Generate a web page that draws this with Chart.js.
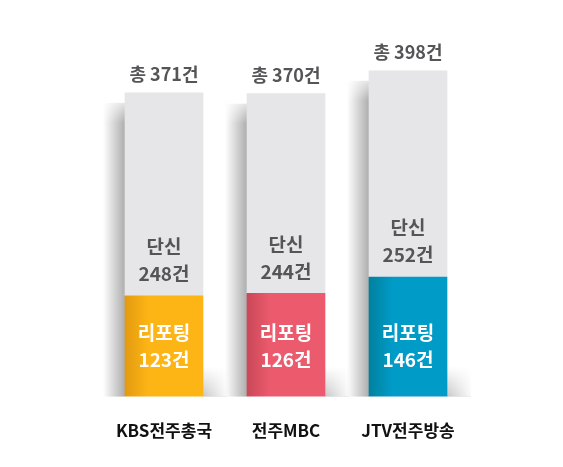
<!DOCTYPE html>
<html>
<head>
<meta charset="utf-8">
<script src="https://cdn.jsdelivr.net/npm/chart.js@4"></script>
<style>
  html, body { margin: 0; padding: 0; background: #fff; }
  #wrap { width: 563px; height: 467px; }
</style>
</head>
<body>
<div id="wrap"><canvas id="chart" width="563" height="467"></canvas></div>
<script>
// ---- data ----
const categories = ['KBS전주총국', '전주MBC', 'JTV전주방송'];
const reportValues = [123, 126, 146];   // 리포팅
const briefValues = [248, 244, 252];    // 단신
const totals = [371, 370, 398];         // 총

const reportColors = ['#FDB515', '#EC5B6D', '#009BC7'];
const reportDark = ['#E39A10', '#C94858', '#00819F'];
const briefColor = '#E6E6E8';
const FONT = '"Noto Sans CJK KR", "Noto Sans", sans-serif';

function sideGradient(ctx, i, light, dark) {
  const chart = ctx.chart;
  if (!chart.chartArea || !chart.scales.x) return light;
  const cx = chart.scales.x.getPixelForValue(i);
  const g = chart.ctx.createLinearGradient(cx - 39, 0, cx + 39, 0);
  g.addColorStop(0, dark);
  g.addColorStop(0.3, light);
  g.addColorStop(1, light);
  return g;
}

// soft shadows around each bar + labels
const barDecor = {
  id: 'barDecor',
  beforeDatasetsDraw(chart) {
    const ctx = chart.ctx;
    const top = chart.getDatasetMeta(1).data;
    const bottom = chart.getDatasetMeta(0).data;
    ctx.save();
    top.forEach((bar, i) => {
      const left = bar.x - 39;
      const right = bar.x + 39;
      const base = bottom[i].base;
      // left side shadow
      let g = ctx.createLinearGradient(left - 22, 0, left, 0);
      g.addColorStop(0, 'rgba(0,0,0,0)');
      g.addColorStop(1, 'rgba(0,0,0,0.32)');
      ctx.fillStyle = g;
      ctx.fillRect(left - 22, bar.y + 10, 22, base - bar.y - 10);
      // fade the top of it
      g = ctx.createLinearGradient(0, bar.y, 0, bar.y + 30);
      g.addColorStop(0, 'rgba(255,255,255,1)');
      g.addColorStop(1, 'rgba(255,255,255,0)');
      ctx.fillStyle = g;
      ctx.fillRect(left - 22, bar.y, 22, 30);
      // floor shadow to the right
      g = ctx.createLinearGradient(0, base - 30, 0, base);
      g.addColorStop(0, 'rgba(0,0,0,0)');
      g.addColorStop(1, 'rgba(0,0,0,0.22)');
      ctx.fillStyle = g;
      ctx.fillRect(right, base - 30, 24, 30);
      g = ctx.createLinearGradient(right, 0, right + 26, 0);
      g.addColorStop(0, 'rgba(255,255,255,0)');
      g.addColorStop(1, 'rgba(255,255,255,1)');
      ctx.fillStyle = g;
      ctx.fillRect(right, base - 30, 26, 30);
    });
    ctx.restore();
  },
  afterDatasetsDraw(chart) {
    const ctx = chart.ctx;
    const rep = chart.getDatasetMeta(0).data;
    const brief = chart.getDatasetMeta(1).data;
    ctx.save();
    ctx.textAlign = 'center';
    ctx.textBaseline = 'middle';
    brief.forEach((bar, i) => {
      ctx.fillStyle = '#555558';
      ctx.font = 'bold 18px ' + FONT;
      ctx.fillText('총 ' + totals[i] + '건', bar.x, bar.y - 19);
      ctx.font = 'bold 19px ' + FONT;
      ctx.fillText('단신', bar.x, bar.base - 49);
      ctx.fillText(briefValues[i] + '건', bar.x, bar.base - 22);
    });
    rep.forEach((bar, i) => {
      ctx.fillStyle = '#ffffff';
      ctx.font = 'bold 19px ' + FONT;
      ctx.fillText('리포팅', bar.x, bar.base - 64);
      ctx.fillText(reportValues[i] + '건', bar.x, bar.base - 37);
    });
    ctx.restore();
  }
};

new Chart(document.getElementById('chart'), {
  type: 'bar',
  data: {
    labels: categories,
    datasets: [
      {
        label: '리포팅',
        data: reportValues,
        backgroundColor: ctx => sideGradient(ctx, ctx.dataIndex, reportColors[ctx.dataIndex], reportDark[ctx.dataIndex]),
        borderWidth: 0
      },
      {
        label: '단신',
        data: briefValues,
        backgroundColor: briefColor,
        borderWidth: 0
      }
    ]
  },
  options: {
    responsive: false,
    animation: false,
    layout: { padding: { left: 103, right: 94, top: 20, bottom: 10 } },
    datasets: { bar: { barThickness: 78 } },
    plugins: {
      legend: { display: false },
      tooltip: { enabled: false }
    },
    scales: {
      x: {
        stacked: true,
        grid: { display: false },
        border: { display: false },
        ticks: {
          color: '#111',
          padding: 16,
          font: { family: FONT, size: 17, weight: 'bold' }
        }
      },
      y: {
        stacked: true,
        display: false,
        min: 0,
        max: 460
      }
    }
  },
  plugins: [barDecor]
});
</script>
</body>
</html>
